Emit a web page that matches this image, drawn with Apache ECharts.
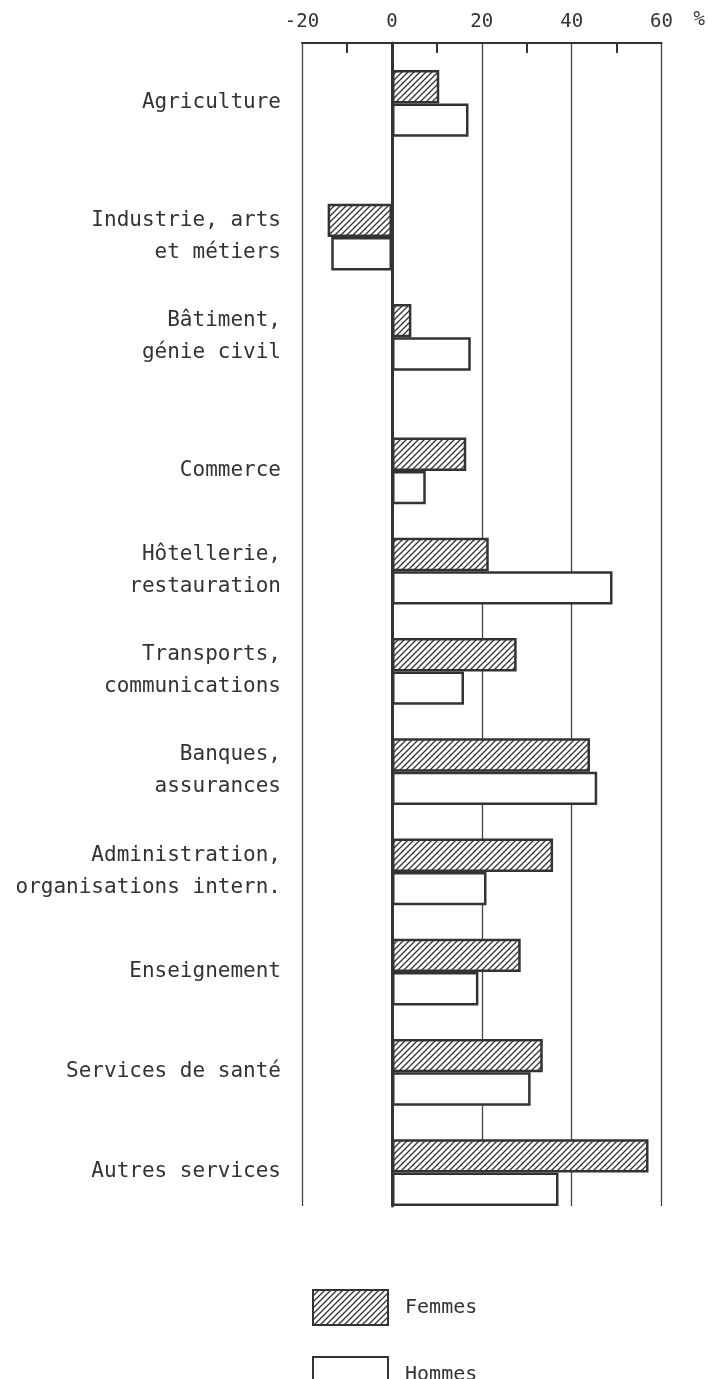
<!DOCTYPE html>
<html>
<head>
<meta charset="utf-8">
<script src="https://cdn.jsdelivr.net/npm/echarts@6/dist/echarts.min.js"></script>
<style>
html,body{margin:0;padding:0;background:#fff;}
#chart{width:708px;height:1379px;}
</style>
</head>
<body>
<div id="chart"></div>
<script>
// données (en %)
var categories = ['Agriculture', 'Industrie, arts\net métiers', 'Bâtiment,\ngénie civil', 'Commerce',
	'Hôtellerie,\nrestauration', 'Transports,\ncommunications', 'Banques,\nassurances',
	'Administration,\norganisations intern.', 'Enseignement', 'Services de santé', 'Autres services'];
var femmes = [10.5, -14.3, 4.3, 16.5, 21.5, 27.7, 44, 35.8, 28.6, 33.5, 57];
var hommes = [17, -13.5, 17.5, 7.5, 49, 16, 45.6, 21, 19.2, 30.8, 37];
var tickLabels = {'-20': '-20', '0': '0', '20': '20', '40': '40', '60': '60'};

// mise en page : nombre de cases vides après chaque branche
var gapAfter = [2, 1, 2, 1, 1, 1, 1, 1, 1, 1];

var FONT = 'DejaVu Sans Mono', INK = '#333';

// hachures pour les femmes
var pat = document.createElement('canvas');
pat.width = 6; pat.height = 6;
var ctx = pat.getContext('2d');
ctx.fillStyle = '#fff';
ctx.fillRect(0, 0, 6, 6);
ctx.strokeStyle = '#333';
ctx.lineWidth = 1.3;
ctx.beginPath();
ctx.moveTo(0, 6); ctx.lineTo(6, 0);
ctx.moveTo(-1, 1); ctx.lineTo(1, -1);
ctx.moveTo(5, 7); ctx.lineTo(7, 5);
ctx.stroke();

var slots = [], fData = [], hData = [], realNames = {};
categories.forEach(function(c, i){
	slots.push(c); realNames[c] = true;
	fData.push(femmes[i]); hData.push('-');
	slots.push('h' + i);
	fData.push('-'); hData.push(hommes[i]);
	for (var k = 0; k < (gapAfter[i] || 0); k++) {
		slots.push('g' + i + '_' + k);
		fData.push('-'); hData.push('-');
	}
});

var barStyle = function(fill){
	return {color: fill, borderColor: INK, borderWidth: 2.5};
};
var legendBox = function(name, top){
	return {
		left: 307, top: top, itemWidth: 75, itemHeight: 35,
		icon: 'rect', formatter: ' {name}',
		textStyle: {fontFamily: FONT, fontSize: 20, color: INK},
		data: [name]
	};
};

var chart = echarts.init(document.getElementById('chart'));
var option = {
	backgroundColor: '#fff',
	animation: false,
	grid: [
		{left: 302, right: 46, top: 43, bottom: 173},
		{left: 302, right: 46, top: 70, bottom: 173}
	],
	xAxis: [{
		gridIndex: 0, type: 'value', position: 'top',
		min: -20, max: 60, interval: 20,
		name: '%\n\n', nameLocation: 'end', nameGap: 32,
		nameTextStyle: {fontFamily: FONT, fontSize: 19, color: INK, lineHeight: 23},
		axisLine: {show: true, onZero: false, lineStyle: {color: INK, width: 2}},
		axisTick: {show: false, inside: true},
		minorTick: {show: true, splitNumber: 2, length: 10, lineStyle: {color: INK, width: 2}},
		splitLine: {show: true, lineStyle: {color: '#444', width: 1.3}},
		axisLabel: {fontFamily: FONT, fontSize: 19, color: INK, margin: 11,
			formatter: function(v){ return tickLabels[String(v)] || ''; }}
	}, {
		gridIndex: 1, type: 'value', min: -20, max: 60, show: false
	}],
	yAxis: [{
		gridIndex: 0, type: 'value', min: 0, max: 1,
		axisLine: {show: true, onZero: true, lineStyle: {color: INK, width: 3}},
		axisTick: {show: false}, axisLabel: {show: false}, splitLine: {show: false}
	}, {
		gridIndex: 1, type: 'category', inverse: true, data: slots,
		axisLine: {show: false}, axisTick: {show: false}, splitLine: {show: false},
		axisLabel: {
			interval: 0, margin: 21, fontFamily: FONT, fontSize: 21, lineHeight: 32,
			color: INK, align: 'right',
			// ligne vide en tête : l'étiquette se centre entre les deux barres
			formatter: function(v){ return realNames[v] ? '\n' + v : ''; }
		}
	}],
	legend: [legendBox('Femmes', 1284), legendBox('Hommes', 1351)],
	series: [{
		name: 'Femmes', type: 'bar', xAxisIndex: 1, yAxisIndex: 1,
		data: fData, barGap: '-100%', barCategoryGap: '0%',
		itemStyle: barStyle({image: pat, repeat: 'repeat'})
	}, {
		name: 'Hommes', type: 'bar', xAxisIndex: 1, yAxisIndex: 1,
		data: hData, barGap: '-100%', barCategoryGap: '0%',
		itemStyle: barStyle('#fff')
	}]
};
chart.setOption(option);
</script>
</body>
</html>
